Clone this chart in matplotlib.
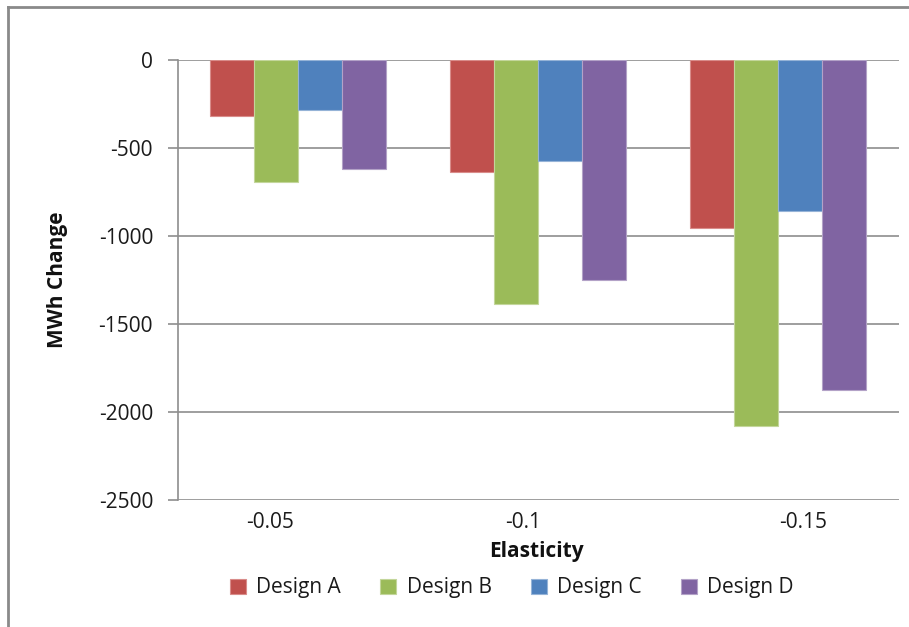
import numpy as np
import matplotlib
matplotlib.use("Agg")
import matplotlib.pyplot as plt
from matplotlib.lines import Line2D

# Data: change in energy use (MWh) by price elasticity for each design
elasticity = ["-0.05", "-0.1", "-0.15"]
design_a = [-320, -637, -960]
design_b = [-695, -1388, -2083]
design_c = [-288, -576, -862]
design_d = [-624, -1252, -1876]
series_names = ["Design A", "Design B", "Design C", "Design D"]
y_ticks = [0, -500, -1000, -1500, -2000, -2500]

series = [design_a, design_b, design_c, design_d]
colors = ["#C0504D", "#9BBB59", "#4F81BD", "#8064A2"]
edges = ["#D98C8A", "#C3D69B", "#95B3D7", "#B3A2C7"]

plt.rcParams["font.family"] = ["Open Sans", "DejaVu Sans"]

fig = plt.figure(figsize=(9.09, 6.27), dpi=100)
ax = fig.add_axes([178 / 909, 127.5 / 627, 721 / 909, 440 / 627])

x = np.arange(len(elasticity))
bar_w = 0.183
offsets = (np.arange(4) - 1.5) * bar_w
for vals, off, c, ec, name in zip(series, offsets, colors, edges, series_names):
    ax.bar(x + off, vals, width=bar_w, color=c, edgecolor=ec, linewidth=0.8,
           label=name, zorder=3)

grid_c = "#8E8E8E"
ax.set_xlim(-0.5, 2.505)
ax.set_ylim(-2500, 0)
ax.set_yticks(y_ticks)
ax.set_yticklabels([str(v) for v in y_ticks])
for v in y_ticks:
    ax.axhline(v, color=grid_c, linewidth=1.2, zorder=1)

# category labels sit slightly off the group centres
label_shift = np.array([-0.117, -0.0625, 0.104])
ax.set_xticks(x + label_shift)
ax.set_xticklabels(elasticity)

for s in ["top", "right", "bottom"]:
    ax.spines[s].set_visible(False)
ax.spines["left"].set_color(grid_c)
ax.spines["left"].set_linewidth(1.2)

fs = 15
ax.tick_params(axis="y", length=7, width=1.2, color=grid_c, pad=11,
               labelsize=fs, labelcolor="#1a1a1a")
ax.tick_params(axis="x", length=0, pad=9, labelsize=fs, labelcolor="#1a1a1a")

ax.set_ylabel("MWh Change", fontsize=fs, fontweight="bold", color="#111111")
ax.yaxis.label.set_va("center")
ax.yaxis.set_label_coords((57 - 178) / 721, 0.5)
ax.set_xlabel("Elasticity", fontsize=fs, fontweight="bold", color="#111111")
ax.xaxis.label.set_va("center")
ax.xaxis.set_label_coords((536 - 178) / 721, (499.5 - 551) / 440)

leg = ax.legend(loc="center", bbox_to_anchor=((512 - 178) / 721, (499.5 - 588) / 440),
                ncol=4, frameon=False, fontsize=fs, handlelength=0.75,
                handleheight=0.75, handletextpad=0.5, columnspacing=1.9,
                borderaxespad=0)
for t in leg.get_texts():
    t.set_color("#1a1a1a")

# outer chart frame (left and top edges)
fw = 909.0
fh = 627.0
fig.add_artist(Line2D([8 / fw, 8 / fw], [0, 1 - 7 / fh], transform=fig.transFigure,
                      color="#8A8A8A", linewidth=2))
fig.add_artist(Line2D([8 / fw, 1], [1 - 7 / fh, 1 - 7 / fh], transform=fig.transFigure,
                      color="#8A8A8A", linewidth=2))

fig.savefig("out.png", dpi=100)
